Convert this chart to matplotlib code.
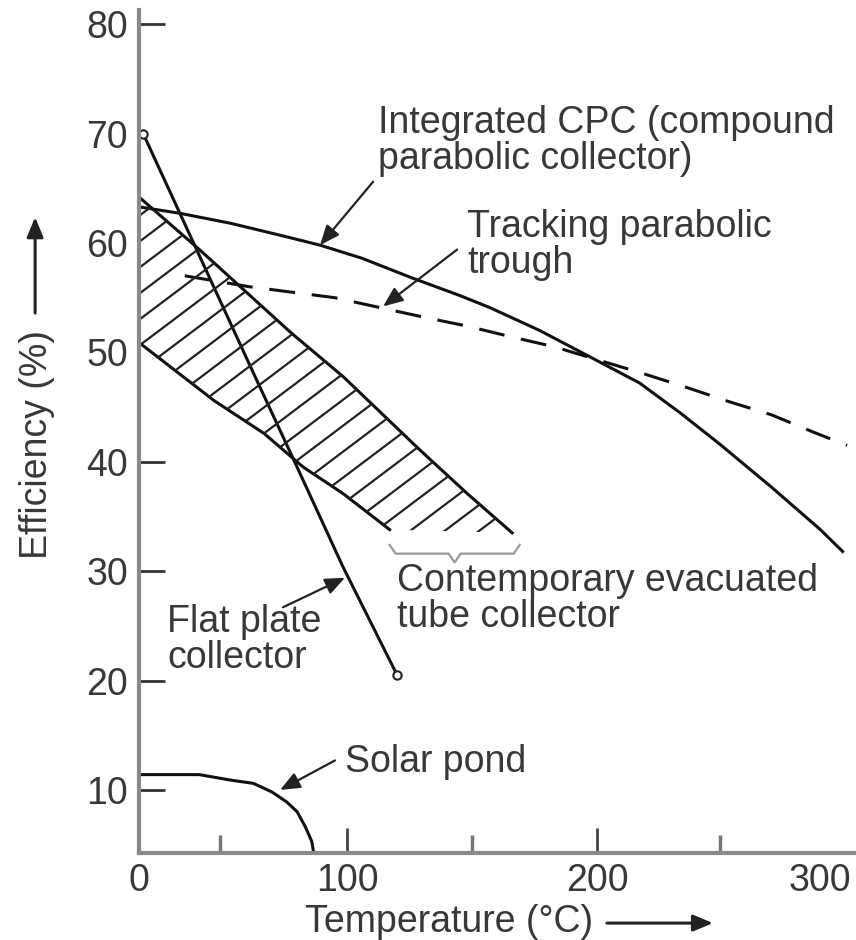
import matplotlib
matplotlib.use("Agg")
import matplotlib.pyplot as plt
import numpy as np
from matplotlib.collections import LineCollection

plt.rcParams['font.family'] = ['Liberation Sans', 'DejaVu Sans']

# curves (temperature in C, efficiency in %)
cpc_t = [0, 20, 44, 68, 87, 106, 126, 145, 157, 177, 197, 219, 237, 255, 278, 300, 310]
cpc_eff = [63.3, 62.7, 61.8, 60.7, 59.8, 58.6, 56.8, 55.2, 54.1, 52.0, 49.6, 47.2, 44.5,
           41.6, 37.7, 33.8, 31.8]

trough_t = [22, 53, 94, 131, 148, 166, 183, 220, 240, 259, 278, 297, 312]
trough_eff = [57.0, 56.0, 55.0, 53.2, 52.4, 51.4, 50.5, 48.1, 46.8, 45.5, 44.3, 42.7, 41.5]

flat_t = [2, 55, 76, 98, 120]
flat_eff = [70.0, 48.1, 39.5, 30.4, 20.5]

band_top_t = [0, 29, 73, 98, 129, 148, 166]
band_top_eff = [64.2, 59.4, 51.8, 47.8, 41.1, 37.1, 33.5]
band_bot_t = [0, 36, 60, 79, 98, 117, 166]
band_bot_eff = [50.9, 45.6, 42.6, 39.5, 37.1, 33.8, 33.5]

pond_t = [0, 29, 44, 55, 64, 71, 76, 80, 83, 84]
pond_eff = [11.4, 11.4, 10.9, 10.6, 9.8, 8.9, 8.0, 6.6, 5.3, 4.2]

x_ticks = [0, 100, 200, 300]
y_ticks = [10, 20, 30, 40, 50, 60, 70, 80]

# the printed temperature axis is not evenly spaced
X_KNOTS = np.array([-100, 0, 100, 200, 300, 400])
X_SPAN = np.array([-208, 0, 208, 458, 681, 904])


def fwd(t):
    return np.interp(t, X_KNOTS, X_SPAN)


def inv(p):
    return np.interp(p, X_SPAN, X_KNOTS)


txt = '#383838'
fs = 27

fig = plt.figure(figsize=(8.56, 9.40), dpi=100)
ax = fig.add_axes([0.1624, 0.0926, 0.8376, 0.8968])
ax.set_xscale('function', functions=(fwd, inv))
ax.set_xlim(0, 316)
ax.set_ylim(4.24, 81.3)

for s in ['top', 'right']:
    ax.spines[s].set_visible(False)
for s in ['left', 'bottom']:
    ax.spines[s].set_color('#8a8a8a')
    ax.spines[s].set_linewidth(3)
    ax.spines[s].set_zorder(5)

lw = 2.2
ax.plot(cpc_t, cpc_eff, color='#111', lw=lw)
ax.plot(trough_t, trough_eff, color='#111', lw=lw, linestyle=(0, (8.5, 5.5)))
ax.plot(flat_t, flat_eff, color='#111', lw=lw, marker='o', markevery=[0, len(flat_t) - 1],
        ms=6, mfc='white', mec='#222', mew=1.5)
ax.plot(pond_t, pond_eff, color='#111', lw=lw)

# hatched band (evacuated tube collectors); the flat bottom end has no edge line
ax.plot(band_top_t, band_top_eff, color='#111', lw=lw)
ax.plot(band_bot_t[:-1], band_bot_eff[:-1], color='#111', lw=lw)
poly = ax.fill(np.r_[band_top_t, band_bot_t[::-1]], np.r_[band_top_eff, band_bot_eff[::-1]],
               facecolor='none', edgecolor='none')[0]
offs = np.arange(-1.0, 1.5, 0.0308)
segs = [[(0, c), (1, c + 0.641)] for c in offs]
hatch = LineCollection(segs, colors='#222', linewidths=1.6, transform=ax.transAxes)
ax.add_collection(hatch)
hatch.set_clip_path(poly)

# brace under the band
bx0, bx1 = band_bot_t[-2], band_top_t[-1] + 3
bm = (fwd(bx0) + fwd(bx1)) / 2
bxs = inv(np.array([fwd(bx0), fwd(bx0) + 6, bm - 6, bm, bm + 6, fwd(bx1) - 6, fwd(bx1)]))
bys = np.array([32.4, 31.6, 31.6, 30.8, 31.6, 31.6, 32.4])
ax.plot(bxs, bys, color='#999', lw=1.6)

# ticks
ax.set_xticks(x_ticks)
ax.set_yticks(y_ticks)
ax.set_xticks([39, 150, 255], minor=True)
ax.tick_params(axis='x', which='major', direction='in', length=18, width=2, color='#444',
               labelsize=fs, labelcolor=txt, pad=7)
ax.tick_params(axis='x', which='minor', direction='in', length=13, width=2.5, color='#777')
ax.tick_params(axis='y', which='major', direction='in', length=19, width=2, color='#333',
               labelsize=fs, labelcolor=txt, pad=8)
xt = ax.xaxis.get_major_ticks()
xt[0].tick1line.set_visible(False)
xt[3].tick1line.set_visible(False)
yt = ax.yaxis.get_major_ticks()
for i in [4, 5, 6]:
    yt[i].tick1line.set_visible(False)
yt[0].tick1line.set_color('#888')

# labels with arrows
arw = dict(arrowstyle='-|>,head_length=0.6,head_width=0.25', color='#222', lw=1.6,
           mutation_scale=20, shrinkA=0, shrinkB=0)

ax.text(112.4, 72.6, 'Integrated CPC (compound\nparabolic collector)', fontsize=fs, color=txt,
        ha='left', va='top', linespacing=1.0)
ax.annotate('', xy=(87, 59.8), xytext=(110.4, 65.6), arrowprops=arw)

ax.text(148, 63.1, 'Tracking parabolic\ntrough', fontsize=fs, color=txt, ha='left', va='top',
        linespacing=1.0)
ax.annotate('', xy=(114.4, 54.2), xytext=(144, 59.4), arrowprops=arw)

ax.text(120, 30.7, 'Contemporary evacuated\ntube collector', fontsize=fs, color=txt,
        ha='left', va='top', linespacing=1.0)

ax.text(13.5, 27.0, 'Flat plate\ncollector', fontsize=fs, color=txt, ha='left', va='top',
        linespacing=1.0)
ax.annotate('', xy=(99, 29.4), xytext=(69.2, 26.7), arrowprops=arw)

ax.text(99, 14.2, 'Solar pond', fontsize=fs, color=txt, ha='left', va='top')
ax.annotate('', xy=(67.8, 10.0), xytext=(94.2, 12.7), arrowprops=arw)

fig.text(0.043, 0.527, 'Efficiency (%)', rotation=90, ha='center', va='center',
         fontsize=fs, color=txt)
ax.annotate('', xy=(0.041, 0.769), xytext=(0.041, 0.667), xycoords='figure fraction',
            textcoords='figure fraction', arrowprops=dict(arw, lw=2.2))
fig.text(0.5245, 0.019, 'Temperature (°C)', ha='center', va='center', fontsize=fs, color=txt)
ax.annotate('', xy=(0.833, 0.018), xytext=(0.709, 0.018), xycoords='figure fraction',
            textcoords='figure fraction', arrowprops=dict(arw, lw=2.2))

fig.savefig('out.png', dpi=100)
